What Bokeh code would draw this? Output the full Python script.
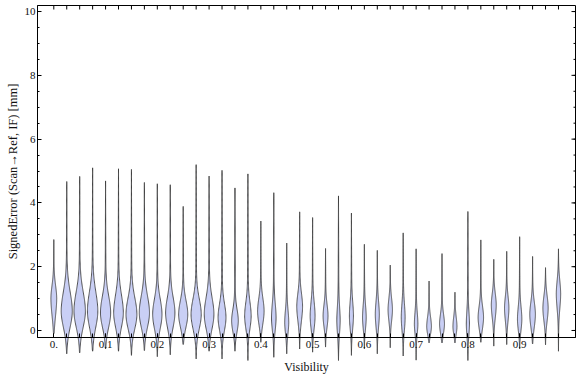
import numpy as np
from bokeh.plotting import figure
from bokeh.models import Range1d, FixedTicker, SingleIntervalTicker
from bokeh.embed import file_html
from bokeh.resources import INLINE

# ---- data ----
visibility = [0.000, 0.025, 0.050, 0.075, 0.100, 0.125, 0.150, 0.175, 0.200, 0.225,
              0.250, 0.275, 0.300, 0.325, 0.350, 0.375, 0.400, 0.425, 0.450, 0.475,
              0.500, 0.525, 0.550, 0.575, 0.600, 0.625, 0.650, 0.675, 0.700, 0.725,
              0.750, 0.775, 0.800, 0.825, 0.850, 0.875, 0.900, 0.925, 0.950, 0.975]
err_min = [-0.10, -0.73, -0.70, -0.65, -0.58, -0.65, -0.78, -0.63, -0.82, -0.76,
           -0.44, -0.89, -0.65, -0.89, -0.65, -0.94, -0.37, -0.84, -0.73, -0.58,
           -0.68, -0.52, -0.94, -0.78, -0.58, -0.73, -0.54, -0.80, -0.93, -0.39,
           -0.39, -0.39, -0.94, -0.37, -0.49, -0.44, -0.58, -0.42, -0.45, -0.65]
err_max = [2.85, 4.67, 4.83, 5.10, 4.69, 5.07, 5.05, 4.64, 4.60, 4.57,
           3.89, 5.20, 4.84, 5.02, 4.47, 4.91, 3.43, 4.32, 2.74, 3.72,
           3.54, 2.57, 4.22, 3.68, 2.70, 2.51, 2.05, 3.06, 2.56, 1.55,
           2.41, 1.20, 3.73, 2.84, 2.23, 2.48, 2.94, 2.32, 1.97, 2.56]
err_mode = [1.00, 0.60, 0.60, 0.60, 0.55, 0.55, 0.50, 0.55, 0.50, 0.55,
            0.50, 0.50, 0.50, 0.40, 0.30, 0.45, 0.60, 0.40, 0.25, 0.75,
            0.45, 0.45, 0.30, 0.45, 0.40, 0.50, 0.65, 0.40, 0.20, 0.12,
            0.20, 0.12, 0.20, 0.40, 0.80, 0.70, 0.35, 0.50, 0.70, 1.15]
peak_density = [2.8, 5.8, 6.0, 5.4, 5.3, 5.0, 5.7, 5.3, 4.8, 4.8,
                4.7, 5.3, 5.0, 4.0, 3.3, 3.2, 3.2, 2.1, 1.8, 2.8,
                2.3, 2.3, 1.4, 1.8, 1.6, 1.8, 2.0, 1.7, 1.5, 2.2,
                2.3, 1.8, 1.3, 2.6, 2.3, 2.0, 2.0, 2.7, 2.5, 2.0]
spread_below = [0.55, 0.50, 0.50, 0.50, 0.45, 0.45, 0.45, 0.45, 0.45, 0.45,
                0.40, 0.45, 0.45, 0.40, 0.35, 0.40, 0.40, 0.40, 0.35, 0.45,
                0.40, 0.35, 0.40, 0.40, 0.35, 0.40, 0.35, 0.40, 0.30, 0.25,
                0.30, 0.25, 0.35, 0.35, 0.40, 0.40, 0.35, 0.40, 0.40, 0.45]
spread_above = [0.40, 0.60, 0.60, 0.60, 0.52, 0.55, 0.52, 0.52, 0.48, 0.48,
                0.43, 0.48, 0.52, 0.43, 0.35, 0.43, 0.40, 0.43, 0.38, 0.40,
                0.43, 0.35, 0.43, 0.43, 0.38, 0.40, 0.35, 0.43, 0.35, 0.30,
                0.30, 0.30, 0.38, 0.35, 0.35, 0.35, 0.38, 0.38, 0.38, 0.40]

x_major_ticks = [0.0, 0.1, 0.2, 0.3, 0.4, 0.5, 0.6, 0.7, 0.8, 0.9]
y_major_ticks = [0, 2, 4, 6, 8, 10]
y_minor_ticks = [0, 0.5, 1, 1.5, 2, 2.5, 3, 3.5, 4, 4.5, 5, 5.5, 6, 6.5, 7, 7.5,
                 8, 8.5, 9, 9.5, 10]

FONT = "Liberation Serif"
WIDTH_SCALE = 0.88 * 0.025 / 12.94   # density unit -> x units
TAIL = 0.5

X0, X1 = -0.0315, 1.0079
Y0, Y1 = -0.22, 10.19

xs_all, ys_all = [], []
for x0, lo, hi, md, dn, sl, sh in zip(visibility, err_min, err_max, err_mode,
                                      peak_density, spread_below, spread_above):
    v = np.linspace(lo, hi, 160)
    s = np.where(v < md, sl, sh)
    bulge = dn * np.exp(-0.5 * ((v - md) / s) ** 2)
    tail = np.where(v < md, (v - lo) / (md - lo), (hi - v) / (hi - md)) * TAIL
    hw = (bulge + tail) * WIDTH_SCALE
    hw[0] = 0.0
    hw[-1] = 0.0
    xs_all.append(np.concatenate([x0 - hw, (x0 + hw)[::-1]]).tolist())
    ys_all.append(np.concatenate([v, v[::-1]]).tolist())

p = figure(width=576, height=377,
           x_range=Range1d(X0, X1), y_range=Range1d(Y0, Y1),
           output_backend="svg", toolbar_location=None,
           min_border_left=37, min_border_right=1, min_border_top=5, min_border_bottom=40)
p.xgrid.visible = False
p.ygrid.visible = False
p.outline_line_color = "black"
p.outline_line_width = 1
p.background_fill_color = "white"
p.border_fill_color = "white"

r = p.patches(xs_all, ys_all, fill_color="#c9cff5", fill_alpha=1.0,
              line_color="#3a3a3a", line_alpha=0.85, line_width=1)
r.level = "annotation"

# frame ticks on top and right (pointing inward)
p.ray(x=visibility, y=[Y1] * len(visibility), angle=-np.pi / 2, length=4,
      length_units="screen", line_color="black", line_width=1)
p.ray(x=[X1] * len(y_major_ticks), y=y_major_ticks, angle=np.pi, length=4,
      length_units="screen", line_color="black", line_width=1)
p.ray(x=[X1] * len(y_minor_ticks), y=y_minor_ticks, angle=np.pi, length=2,
      length_units="screen", line_color="black", line_width=1)

xt = FixedTicker(ticks=x_major_ticks, minor_ticks=visibility)
yt = SingleIntervalTicker(interval=2, num_minor_ticks=4)

xa = p.xaxis[0]
xa.ticker = xt
xa.major_label_overrides = {0: "0."}
xa.axis_label = "Visibility"
ya = p.yaxis[0]
ya.ticker = yt
ya.axis_label = "SignedError (Scan\u2192Ref, IF) [mm]"

xa.major_tick_in = 4
xa.major_tick_out = 0
xa.minor_tick_in = 4
xa.minor_tick_out = 0
ya.major_tick_in = 4
ya.major_tick_out = 0
ya.minor_tick_in = 2
ya.minor_tick_out = 0
for ax in [xa, ya]:
    ax.axis_line_color = "black"
    ax.major_tick_line_color = "black"
    ax.minor_tick_line_color = "black"
    ax.major_label_text_font = FONT
    ax.axis_label_text_font = FONT
    ax.axis_label_text_font_style = "normal"
    ax.major_label_text_color = "#111111"
    ax.axis_label_text_color = "#111111"
    ax.major_label_text_font_size = "11px"
    ax.level = "overlay"
xa.axis_label_text_font_size = "12px"
ya.axis_label_text_font_size = "12.5px"
xa.major_label_standoff = 3
xa.axis_label_standoff = 9
ya.major_label_standoff = 2
ya.axis_label_standoff = 2

open("out.html", "w").write(file_html(p, INLINE))
